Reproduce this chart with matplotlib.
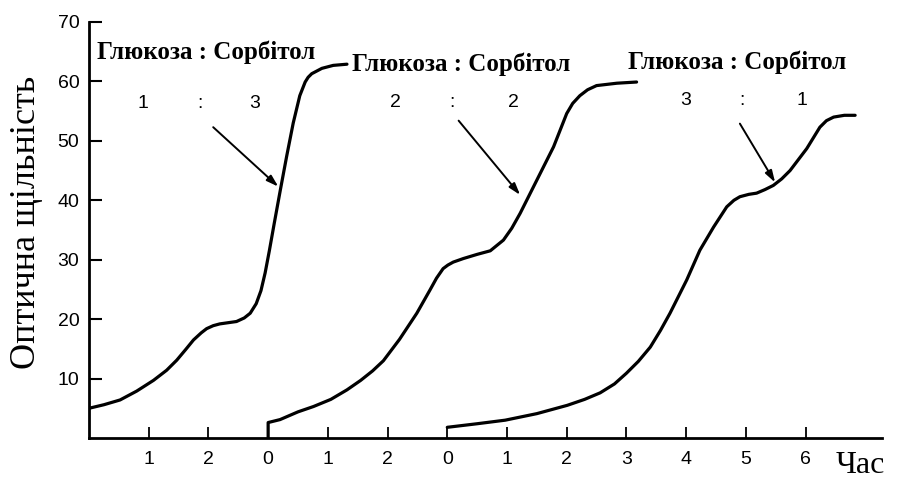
import matplotlib
matplotlib.use('Agg')
import matplotlib.pyplot as plt

# time axis is composite: each culture starts its own clock
starts = [0, 3, 6]

hours_1 = [0.0, 0.25, 0.52, 0.8, 1.08, 1.3, 1.47, 1.62, 1.75, 1.88, 1.97, 2.08, 2.19, 2.33, 2.47,
           2.6, 2.70, 2.80, 2.88, 2.95, 3.02, 3.10, 3.20, 3.31, 3.42, 3.53, 3.62, 3.67, 3.73, 3.90,
           4.09, 4.32]
od_1 = [5.0, 5.6, 6.4, 7.9, 9.7, 11.4, 13.1, 14.9, 16.5, 17.7, 18.4, 18.9, 19.2, 19.4, 19.6,
        20.2, 21.0, 22.6, 24.8, 27.8, 31.5, 36.0, 41.5, 47.4, 53.0, 57.6, 59.9, 60.7, 61.3, 62.2,
        62.7, 62.9]

hours_2 = [0.0, 0.0, 0.2, 0.5, 0.76, 1.05, 1.32, 1.55, 1.75, 1.93, 2.2, 2.49, 2.71, 2.82, 2.93,
           3.01, 3.1, 3.27, 3.5, 3.72, 3.94, 4.08, 4.22, 4.5, 4.78, 5.0, 5.1, 5.22, 5.35, 5.5,
           5.84, 6.17]
od_2 = [0.0, 2.6, 3.1, 4.4, 5.3, 6.5, 8.1, 9.7, 11.3, 13.0, 16.6, 21.0, 24.9, 26.9, 28.5,
        29.1, 29.6, 30.2, 30.9, 31.5, 33.3, 35.3, 37.8, 43.4, 49.0, 54.6, 56.3, 57.6, 58.6, 59.3,
        59.7, 59.9]

hours_3 = [0.0, 0.5, 0.97, 1.5, 2.01, 2.3, 2.56, 2.8, 3.0, 3.2, 3.4, 3.57, 3.73, 3.87, 4.01, 4.23,
           4.46, 4.68, 4.8, 4.90, 5.05, 5.18, 5.32, 5.46, 5.6, 5.74, 6.02, 6.24, 6.35, 6.47, 6.65,
           6.83]
od_3 = [1.8, 2.4, 3.0, 4.1, 5.5, 6.5, 7.6, 9.1, 10.9, 12.9, 15.3, 18.1, 21.0, 23.8, 26.6, 31.6,
        35.5, 38.9, 40.0, 40.6, 41.0, 41.2, 41.8, 42.5, 43.6, 45.0, 48.7, 52.3, 53.4, 54.0, 54.3,
        54.3]

ratios = [("1", "3"), ("2", "2"), ("3", "1")]
tick_labels = ["1", "2", "0", "1", "2", "0", "1", "2", "3", "4", "5", "6"]
y_ticks = [10, 20, 30, 40, 50, 60, 70]

fig = plt.figure(figsize=(8.97, 4.8), dpi=100)
ax = fig.add_axes([89 / 897, 42 / 480, 793 / 897, 416 / 480])

for st, hh, od in zip(starts, [hours_1, hours_2, hours_3], [od_1, od_2, od_3]):
    ax.plot([st + h for h in hh], od, color='black', lw=2.3,
            solid_joinstyle='round', solid_capstyle='round')

ax.set_xlim(0, 13.28)
ax.set_ylim(0, 70)
for s in ['top', 'right']:
    ax.spines[s].set_visible(False)
for s in ['left', 'bottom']:
    ax.spines[s].set_linewidth(2.0)

ax.set_xticks(range(1, len(tick_labels) + 1))
ax.set_xticklabels(tick_labels)
ax.set_yticks(y_ticks)
ax.tick_params(axis='x', direction='in', length=8, width=1.3, pad=9,
               labelsize=14, labelfontfamily='Liberation Sans')
ax.tick_params(axis='y', direction='in', length=9, width=1.5, pad=7,
               labelsize=14, labelfontfamily='Liberation Sans')

serif = 'Liberation Serif'
fig.text(27 / 897, 1 - 222 / 480, 'Оптична щільність', fontsize=26, family=serif,
         rotation=90, ha='center', va='center')
fig.text(836 / 897, 7 / 480, 'Час', fontsize=23, family=serif,
         ha='left', va='baseline')

# ratio headers
head_x = [1.96, 6.24, 10.85]
head_y = [64.9, 62.9, 63.3]
num_x = [(0.90, 1.86, 2.78), (5.13, 6.08, 7.11), (9.99, 10.93, 11.94)]
num_y = [56.3, 56.5, 56.8]
for hx, hy, (a, b), nx, ny in zip(head_x, head_y, ratios, num_x, num_y):
    ax.text(hx, hy, 'Глюкоза : Сорбітол', family=serif, fontweight='bold',
            fontsize=18, ha='center', va='center')
    for x, t in zip(nx, [a, ':', b]):
        ax.text(x, ny, t, family='Liberation Sans', fontsize=14,
                ha='center', va='center')

# arrows pointing to second growth phase
arrow_from = [(2.08, 52.3), (6.19, 53.4), (10.9, 52.9)]
arrow_to = [(3.17, 42.3), (7.22, 40.9), (11.49, 43.0)]
for p0, p1 in zip(arrow_from, arrow_to):
    ax.annotate('', xy=p1, xytext=p0,
                arrowprops=dict(arrowstyle='-|>,head_length=0.7,head_width=0.22',
                                color='black', lw=1.4, shrinkA=0, shrinkB=0))

fig.savefig('out.png', dpi=100)
